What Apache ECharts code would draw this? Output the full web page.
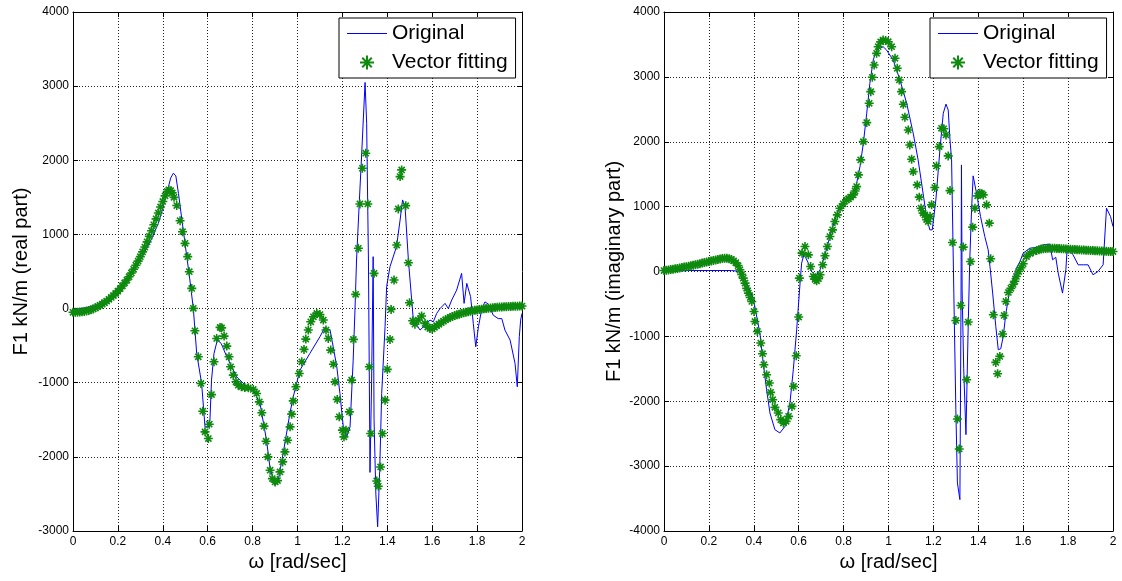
<!DOCTYPE html>
<html>
<head>
<meta charset="utf-8">
<script src="https://cdn.jsdelivr.net/npm/echarts@6/dist/echarts.min.js"></script>
<style>
html,body{margin:0;padding:0;background:#fff;}
#chart{width:1122px;height:581px;}
</style>
</head>
<body>
<div id="chart"></div>
<script>
// ---------- DATA ----------
const seriesNames = ['Original', 'Vector fitting'];
const xTickLabels = ['0','0.2','0.4','0.6','0.8','1','1.2','1.4','1.6','1.8','2'];

// Real part - original
const realOrigX = [0,0.05,0.1,0.15,0.2,0.25,0.3,0.35,0.38,0.4,0.42,0.435,0.447,0.458,0.47,0.485,0.499,0.52,0.536,0.551,0.573,0.588,0.595,0.603,0.61,0.617,0.628,0.643,0.648,0.66,0.685,0.729,0.774,0.803,0.833,0.862,0.877,0.899,0.915,0.936,0.966,0.981,1.011,1.055,1.1,1.122,1.145,1.159,1.175,1.189,1.204,1.219,1.234,1.248,1.256,1.263,1.275,1.286,1.301,1.308,1.316,1.323,1.33,1.337,1.341,1.349,1.357,1.366,1.375,1.39,1.397,1.412,1.441,1.457,1.468,1.479,1.494,1.516,1.546,1.576,1.59,1.605,1.62,1.635,1.657,1.672,1.687,1.709,1.731,1.742,1.754,1.76,1.771,1.783,1.794,1.806,1.821,1.835,1.85,1.872,1.894,1.91,1.924,1.947,1.969,1.979,1.988,1.994,2.0];
const realOrigY = [-10,5,40,130,250,420,650,940,1150,1350,1580,1760,1826,1790,1550,1200,880,400,0,-605,-1010,-1596,-1618,-1600,-1505,-965,-605,-425,-400,-470,-650,-920,-1055,-1100,-1280,-1775,-2136,-2383,-2300,-1955,-1415,-1190,-830,-605,-380,-254,-290,-515,-785,-1145,-1596,-1731,-1596,-695,-20,655,1420,2095,3050,2500,655,-2210,-1000,700,-1500,-2500,-2943,-2200,-1145,-245,295,565,835,1195,1465,1375,655,-155,-290,-200,-155,-178,-65,0,70,0,115,250,475,70,340,350,160,-200,-515,-245,0,90,60,-90,-135,-135,-290,-425,-740,-1055,-380,-155,-65];

// Real part - vector fitting
const realFitX = [0,0.01,0.02,0.03,0.04,0.05,0.06,0.07,0.08,0.09,0.1,0.11,0.12,0.13,0.14,0.15,0.16,0.17,0.18,0.19,0.2,0.21,0.22,0.23,0.24,0.25,0.26,0.27,0.28,0.29,0.3,0.31,0.32,0.33,0.34,0.35,0.36,0.37,0.38,0.39,0.4,0.41,0.42,0.427,0.435,0.442,0.45,0.462,0.477,0.488,0.499,0.511,0.518,0.529,0.536,0.543,0.558,0.57,0.578,0.588,0.603,0.607,0.617,0.628,0.64,0.655,0.662,0.673,0.685,0.695,0.702,0.714,0.726,0.736,0.75,0.765,0.781,0.803,0.818,0.83,0.841,0.851,0.86,0.868,0.878,0.888,0.9,0.911,0.922,0.934,0.944,0.956,0.967,0.974,0.981,0.993,1.008,1.019,1.029,1.037,1.048,1.059,1.071,1.086,1.1,1.115,1.127,1.137,1.148,1.16,1.167,1.177,1.186,1.2,1.207,1.216,1.231,1.241,1.249,1.259,1.271,1.278,1.289,1.304,1.313,1.32,1.326,1.341,1.353,1.36,1.37,1.378,1.39,1.4,1.412,1.417,1.43,1.442,1.449,1.457,1.464,1.482,1.494,1.499,1.513,1.523,1.538,1.553,1.568,1.58,1.59,1.6,1.61,1.62,1.63,1.64,1.65,1.66,1.67,1.68,1.69,1.7,1.71,1.72,1.73,1.74,1.75,1.76,1.77,1.78,1.79,1.8,1.81,1.82,1.83,1.84,1.85,1.86,1.87,1.88,1.89,1.9,1.91,1.92,1.93,1.94,1.95,1.96,1.97,1.98,1.99,2.0];
const realFitY = [-50,-50,-48,-45,-42,-38,-32,-25,-15,-5,10,25,42,60,80,100,125,150,175,205,235,270,305,345,385,430,480,530,585,640,700,765,830,900,975,1050,1130,1210,1290,1370,1445,1520,1580,1600,1590,1560,1500,1390,1185,1037,880,700,497,272,3,-300,-650,-1010,-1384,-1663,-1753,-1560,-1160,-718,-403,-254,-260,-371,-506,-650,-785,-898,-988,-1033,-1055,-1065,-1069,-1090,-1145,-1258,-1406,-1586,-1789,-2000,-2180,-2293,-2338,-2320,-2203,-2068,-1933,-1775,-1595,-1424,-1245,-1055,-875,-718,-551,-412,-290,-178,-111,-65,-80,-155,-290,-403,-560,-750,-988,-1225,-1460,-1640,-1730,-1640,-1393,-965,-416,192,813,1411,1892,2095,1411,-785,-1685,475,-2325,-2397,-2136,-1685,-1235,-820,-416,-11,385,857,1343,1780,1870,1388,618,78,-165,-210,-155,-100,-200,-250,-268,-275,-252,-230,-210,-190,-170,-150,-135,-120,-107,-95,-85,-75,-65,-56,-49,-42,-36,-30,-24,-18,-13,-8,-4,0,4,8,11,14,17,20,22,24,26,28,29,30,31,32,33,34];

// Imaginary part - original
const imagOrigX = [0,0.05,0.1,0.2,0.3,0.33,0.353,0.368,0.375,0.398,0.427,0.442,0.457,0.472,0.494,0.516,0.539,0.561,0.576,0.591,0.606,0.613,0.623,0.633,0.643,0.658,0.677,0.695,0.717,0.739,0.761,0.784,0.813,0.843,0.858,0.873,0.888,0.903,0.917,0.932,0.947,0.976,0.99,1.021,1.051,1.081,1.11,1.132,1.154,1.169,1.184,1.195,1.211,1.229,1.244,1.256,1.266,1.274,1.281,1.291,1.3,1.307,1.318,1.323,1.325,1.328,1.335,1.345,1.355,1.362,1.37,1.377,1.385,1.392,1.41,1.429,1.444,1.452,1.464,1.478,1.489,1.5,1.511,1.523,1.538,1.555,1.57,1.585,1.6,1.63,1.66,1.689,1.719,1.731,1.745,1.756,1.775,1.79,1.796,1.822,1.845,1.87,1.889,1.911,1.933,1.956,1.971,1.989,2.0];
const imagOrigY = [0,10,15,15,15,5,-77,-179,-231,-420,-949,-1411,-1822,-2181,-2438,-2489,-2387,-2027,-1514,-898,-179,129,257,200,129,0,-66,26,257,539,796,1001,1104,1181,1361,1617,1977,2439,2901,3260,3414,3465,3420,3260,2952,2593,2131,1720,1207,847,642,642,1104,1874,2439,2580,2490,2028,1720,-333,-2130,-3259,-3516,-500,1643,-300,-1500,-2515,-847,180,950,1474,1463,1207,847,539,334,77,-333,-847,-1206,-1190,-1001,-641,-333,-128,50,150,283,360,370,411,422,180,220,-25,-333,26,360,257,103,103,103,-51,0,103,976,847,693];

// Imaginary part - vector fitting
const imagFitX = [0,0.01,0.02,0.03,0.04,0.05,0.06,0.07,0.08,0.09,0.1,0.11,0.12,0.13,0.14,0.15,0.16,0.17,0.18,0.19,0.2,0.21,0.22,0.23,0.24,0.25,0.26,0.27,0.28,0.29,0.3,0.31,0.32,0.33,0.338,0.346,0.353,0.361,0.368,0.376,0.384,0.391,0.401,0.405,0.416,0.431,0.439,0.445,0.457,0.469,0.475,0.484,0.494,0.509,0.52,0.532,0.544,0.555,0.57,0.577,0.589,0.6,0.603,0.615,0.628,0.643,0.653,0.665,0.673,0.68,0.688,0.695,0.707,0.717,0.728,0.739,0.751,0.761,0.772,0.784,0.798,0.813,0.822,0.831,0.843,0.851,0.858,0.866,0.876,0.888,0.903,0.914,0.921,0.928,0.936,0.947,0.954,0.965,0.976,0.987,0.999,1.014,1.029,1.039,1.048,1.058,1.066,1.073,1.088,1.095,1.103,1.11,1.128,1.137,1.145,1.154,1.162,1.17,1.177,1.185,1.192,1.206,1.214,1.226,1.236,1.246,1.256,1.266,1.274,1.285,1.3,1.307,1.315,1.322,1.333,1.348,1.355,1.366,1.375,1.385,1.397,1.407,1.415,1.422,1.437,1.449,1.455,1.467,1.478,1.486,1.496,1.508,1.515,1.523,1.534,1.545,1.555,1.563,1.57,1.58,1.59,1.6,1.615,1.63,1.645,1.66,1.67,1.68,1.69,1.7,1.71,1.72,1.73,1.74,1.75,1.76,1.77,1.78,1.79,1.8,1.81,1.82,1.83,1.84,1.85,1.86,1.87,1.88,1.89,1.9,1.91,1.92,1.93,1.94,1.95,1.96,1.97,1.98,1.99,2.0];
const imagFitY = [15,20,25,30,35,42,48,55,62,68,75,82,90,98,105,113,121,130,138,146,154,162,170,178,186,194,200,205,204,198,185,165,135,90,26,-45,-102,-179,-260,-333,-400,-462,-616,-770,-924,-1103,-1267,-1437,-1591,-1719,-1863,-1976,-2094,-2181,-2284,-2335,-2310,-2233,-2079,-1771,-1298,-702,-102,283,385,257,77,-77,-120,-143,-110,-51,103,242,385,539,642,770,873,976,1043,1104,1120,1146,1181,1240,1309,1489,1720,2002,2295,2593,2772,2994,3183,3363,3465,3540,3568,3560,3542,3465,3286,3132,2952,2772,2578,2378,2182,1951,1731,1540,1335,1146,976,900,873,800,770,850,1027,1294,1628,1925,2208,2200,2105,1782,1247,447,-755,-2273,-2735,-524,376,-1668,-779,154,684,976,1166,1207,1200,1181,1027,745,196,-667,-1401,-1575,-1309,-964,-678,-462,-323,-260,-200,-150,-77,0,60,120,231,280,305,324,335,345,350,355,358,360,360,358,356,354,352,349,346,344,342,340,338,336,334,332,330,328,326,324,322,320,318,316,315,313,312,310,309,308];

// Axis ranges / labels
const realYTicks = [-3000, 4000, 1000];
const imagYTicks = [-4000, 4000, 1000];
const realYName = 'F1 kN/m (real part)';
const imagYName = 'F1 kN/m (imaginary part)';
const xName = 'ω [rad/sec]';

// ---------- BUILD ----------
function zip(xs, ys){ return xs.map((x,i)=>[x, ys[i]]); }

const FONT = 'Liberation Sans, Arial, sans-serif';
const asterisk = 'path://M5 0L5 10M0 5L10 5M1.6 1.6L8.4 8.4M8.4 1.6L1.6 8.4';
const lineIcon = 'path://M0 0M40 14M0 6.5L40 6.5L40 7.6L0 7.6Z';
const gridLine = {show:true, lineStyle:{color:'#222', type:[1,2], width:1}};

function bottomX(gi){
  return {gridIndex:gi, type:'value', min:0, max:2, interval:0.2, position:'bottom',
    name:xName, nameLocation:'middle', nameGap:19,
    nameTextStyle:{fontSize:20, color:'#000', fontFamily:FONT},
    axisLine:{show:true, onZero:false, lineStyle:{color:'#000', width:1}},
    axisTick:{show:true, inside:true, length:5, lineStyle:{color:'#000'}},
    axisLabel:{fontSize:12, color:'#000', margin:5, fontFamily:FONT,
      formatter:(v)=>xTickLabels[Math.round(v/0.2)]},
    splitLine:gridLine};
}
function topX(gi){
  return {gridIndex:gi, type:'value', min:0, max:2, interval:0.2, position:'top',
    axisLine:{show:true, onZero:false, lineStyle:{color:'#000', width:1}},
    axisTick:{show:true, inside:true, length:5, lineStyle:{color:'#000'}},
    axisLabel:{show:false}, splitLine:{show:false}};
}
function leftY(gi, t, name, gap){
  return {gridIndex:gi, type:'value', min:t[0], max:t[1], interval:t[2], position:'left',
    name:name, nameLocation:'middle', nameGap:gap,
    nameTextStyle:{fontSize:20, color:'#000', fontFamily:FONT},
    axisLine:{show:true, onZero:false, lineStyle:{color:'#000', width:1}},
    axisTick:{show:true, inside:true, length:5, lineStyle:{color:'#000'}},
    axisLabel:{fontSize:12, color:'#000', margin:4, fontFamily:FONT,
      formatter:(v)=>String(v)},
    splitLine:gridLine};
}
function rightY(gi, t){
  return {gridIndex:gi, type:'value', min:t[0], max:t[1], interval:t[2], position:'right',
    axisLine:{show:true, onZero:false, lineStyle:{color:'#000', width:1}},
    axisTick:{show:true, inside:true, length:5, lineStyle:{color:'#000'}},
    axisLabel:{show:false}, splitLine:{show:false}};
}
function lineSeries(xi, yi, data){
  return {name:seriesNames[0], type:'line', xAxisIndex:xi, yAxisIndex:yi, data:data,
    symbol:'none', showSymbol:false, smooth:false,
    lineStyle:{color:'#0000ff', width:1}, itemStyle:{color:'#0000ff'}, z:2, animation:false};
}
function fitSeries(xi, yi, data){
  return {name:seriesNames[1], type:'scatter', xAxisIndex:xi, yAxisIndex:yi, data:data,
    symbol:asterisk, symbolSize:9,
    itemStyle:{color:'rgba(0,0,0,0)', borderColor:'#0e8a0e', borderWidth:1.6, opacity:1},
    z:3, animation:false};
}
function legendAt(left){
  return {show:true, orient:'vertical', left:left, top:18,
    data:[
      {name:seriesNames[0], icon:lineIcon, itemStyle:{color:'#0000ff', borderWidth:0}},
      {name:seriesNames[1]}
    ],
    itemWidth:40, itemHeight:14, itemGap:8, padding:[5,8,5,8],
    borderColor:'#000', borderWidth:1, borderRadius:0, backgroundColor:'#fff',
    textStyle:{fontSize:21, color:'#000', fontFamily:FONT}, selectedMode:false};
}

const option = {
  backgroundColor:'#fff',
  animation:false,
  grid:[
    {left:73, top:12, width:449, height:519, containLabel:false},
    {left:664, top:12, width:449, height:519, containLabel:false}
  ],
  xAxis:[bottomX(0), topX(0), bottomX(1), topX(1)],
  yAxis:[leftY(0, realYTicks, realYName, 42), rightY(0, realYTicks),
         leftY(1, imagYTicks, imagYName, 40), rightY(1, imagYTicks)],
  legend:[legendAt(339), legendAt(930)],
  series:[
    lineSeries(0, 0, zip(realOrigX, realOrigY)),
    fitSeries(0, 0, zip(realFitX, realFitY)),
    lineSeries(2, 2, zip(imagOrigX, imagOrigY)),
    fitSeries(2, 2, zip(imagFitX, imagFitY))
  ]
};

const chart = echarts.init(document.getElementById('chart'), null, {renderer:'canvas'});
chart.setOption(option);
</script>
</body>
</html>
